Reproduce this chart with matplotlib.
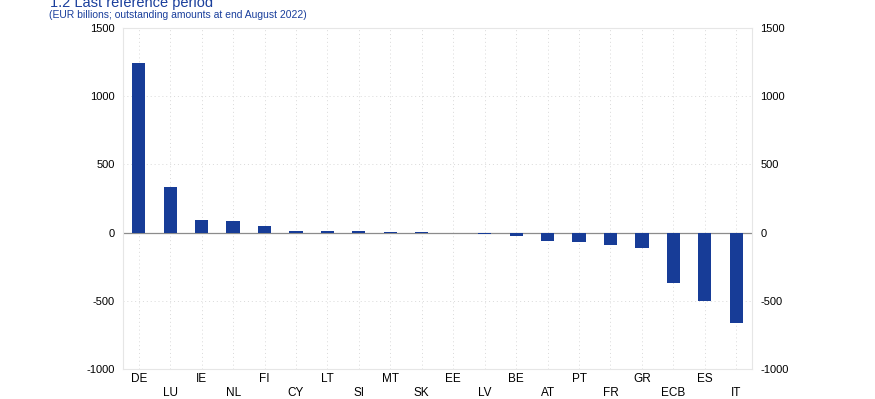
import numpy as np
import matplotlib.pyplot as plt

plt.rcParams['font.family'] = ['Liberation Sans', 'DejaVu Sans']

# countries and outstanding amounts (EUR billions)
countries = ['DE', 'LU', 'IE', 'NL', 'FI', 'CY', 'LT', 'SI', 'MT', 'SK',
             'EE', 'LV', 'BE', 'AT', 'PT', 'FR', 'GR', 'ECB', 'ES', 'IT']
values = [1245, 337, 95, 88, 51, 12, 11, 9, 5, 4,
          -3, -12, -28, -58, -70, -93, -110, -367, -500, -660]
yticks = [-1000, -500, 0, 500, 1000, 1500]

blue = '#173c97'
title_blue = '#1a3f9c'
grid_col = '#d9d9d9'

fig = plt.figure(figsize=(8.75, 3.99), dpi=100)
ax = fig.add_axes([123 / 875, 1 - 369 / 399, 629 / 875, 341 / 399])

x = np.arange(len(countries))
ax.bar(x, values, width=0.42, color=blue, zorder=3)
ax.axhline(0, color='#8c8c8c', lw=0.9, zorder=2)

ax.set_xlim(-0.5, len(countries) - 0.5)
ax.set_ylim(-1000, 1500)
ax.set_yticks(yticks)
ax.set_yticklabels([str(v) for v in yticks], fontsize=8)
ax.tick_params(axis='y', length=0, pad=6, labelright=True, right=False)
ax.set_xticks(x)
ax.set_xticklabels([])
ax.tick_params(axis='x', length=0)

# staggered category labels below the axis
for i, c in enumerate(countries):
    off = 4 if i % 2 == 0 else 18
    ax.annotate(c, xy=(i, 0), xycoords=('data', 'axes fraction'),
                xytext=(0, -off), textcoords='offset pixels',
                fontsize=8.5, ha='center', va='top', annotation_clip=False)

ax.grid(True, color=grid_col, lw=0.7, ls=(0, (1, 3)), zorder=0)
for s in ax.spines.values():
    s.set_color('#e6e6e6')
    s.set_linewidth(0.8)

fig.text(50 / 875, 1 - 7 / 399, '1.2 Last reference period', fontsize=10.5,
         color=title_blue, ha='left', va='baseline')
fig.text(49 / 875, 1 - 15 / 399,
         '(EUR billions; outstanding amounts at end August 2022)',
         fontsize=7.5, color=title_blue, ha='left', va='center')

fig.savefig('out.png', dpi=100)
